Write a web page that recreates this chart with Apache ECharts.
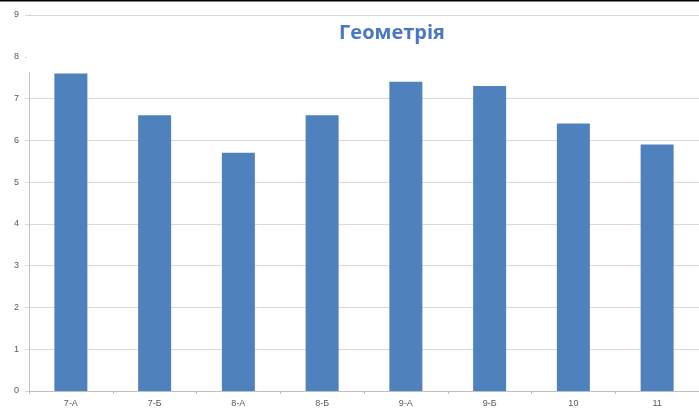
<!DOCTYPE html>
<html>
<head>
<meta charset="utf-8">
<script src="https://cdn.jsdelivr.net/npm/echarts@6/dist/echarts.min.js"></script>
<style>
  html, body { margin: 0; padding: 0; background: #fff; }
  #main { width: 699px; height: 410px; }
</style>
</head>
<body>
<div id="main"></div>
<script>
// classes and average marks
const classes = ["7-А", "7-Б", "8-А", "8-Б", "9-А", "9-Б", "10", "11"];
const marks = [7.6, 6.6, 5.7, 6.6, 7.4, 7.3, 6.4, 5.9];
const titleText = "Геометрія";

const chart = echarts.init(document.getElementById("main"));

const option = {
  animation: false,
  title: {
    text: titleText,
    left: 392,
    top: 23,
    textAlign: "center",
    padding: 0,
    textStyle: {
      color: "#4A76C6",
      fontFamily: "Open Sans",
      fontWeight: "bold",
      fontSize: 20,
    },
  },
  grid: {
    left: 29,
    top: 15,
    bottom: 19,
    width: 678,
    containLabel: false,
  },
  xAxis: {
    type: "category",
    data: classes,
    axisLine: { lineStyle: { color: "#bfbfbf", width: 1 } },
    axisTick: { show: true, length: 3, lineStyle: { color: "#bfbfbf" } },
    axisLabel: {
      color: "#595959",
      fontFamily: "Liberation Sans",
      fontSize: 9,
      margin: 8,
    },
  },
  yAxis: {
    type: "value",
    min: 0,
    max: 9,
    interval: 1,
    axisLine: { show: true, lineStyle: { color: "#bfbfbf", width: 1 } },
    axisTick: { show: true, length: 4, lineStyle: { color: "#d9d9d9" } },
    axisLabel: {
      color: "#595959",
      fontFamily: "Liberation Sans",
      fontSize: 9,
      margin: 10,
    },
    splitLine: { lineStyle: { color: "#d9d9d9", width: 1 } },
  },
  series: [
    {
      type: "bar",
      data: marks,
      barWidth: 33,
      itemStyle: { color: "#4F81BD" },
      z: 3,
    },
  ],
  graphic: [
    // white title area hides the top of the plot, as in the source picture
    {
      type: "rect",
      z: 1,
      shape: { x: 27, y: 16, width: 680, height: 56 },
      style: { fill: "#fff" },
    },
    {
      type: "rect",
      z: 10,
      shape: { x: 0, y: 0, width: 699, height: 1.5 },
      style: { fill: "#000" },
    },
  ],
};

chart.setOption(option);
</script>
</body>
</html>
